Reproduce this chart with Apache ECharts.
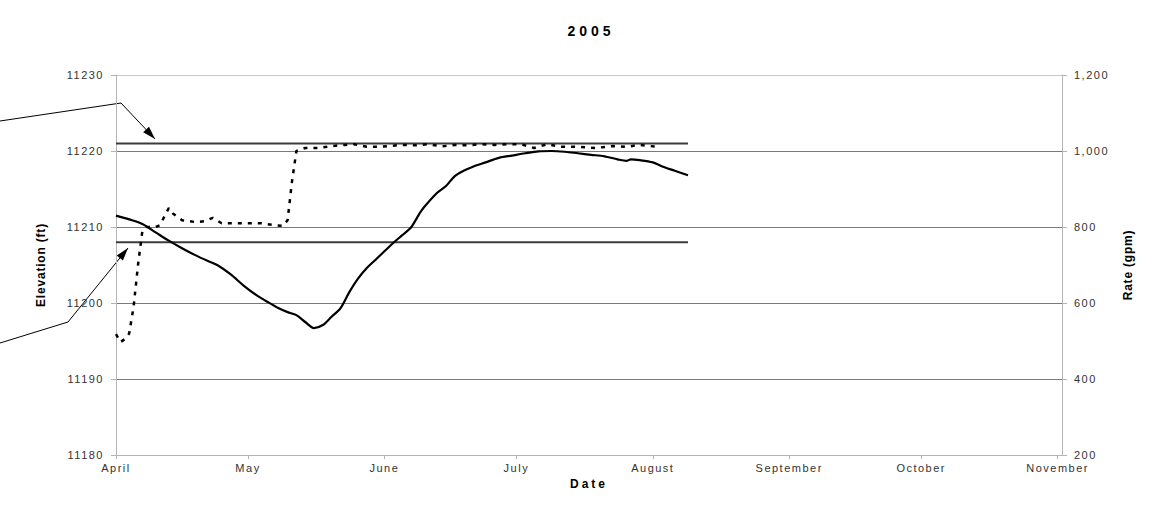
<!DOCTYPE html>
<html>
<head>
<meta charset="utf-8">
<script src="https://cdn.jsdelivr.net/npm/echarts@6/dist/echarts.min.js"></script>
<style>
html,body{margin:0;padding:0;background:#fff;}
#chart{width:1159px;height:507px;}
</style>
</head>
<body>
<div id="chart"></div>
<script>
// ---- data ----
const titleText = '2005';
const monthNames = ['January','February','March','April','May','June','July','August','September','October','November','December'];
const elevDates = ['2005-04-01','2005-04-04','2005-04-07','2005-04-10','2005-04-13','2005-04-16','2005-04-19','2005-04-22','2005-04-24','2005-04-27','2005-04-30','2005-05-03','2005-05-05','2005-05-08','2005-05-10','2005-05-12','2005-05-14','2005-05-16','2005-05-18','2005-05-20','2005-05-22','2005-05-24','2005-05-26','2005-05-28','2005-05-30','2005-06-01','2005-06-03','2005-06-05','2005-06-07','2005-06-08','2005-06-09','2005-06-10','2005-06-13','2005-06-15','2005-06-17','2005-06-19','2005-06-21','2005-06-24','2005-06-27','2005-06-30','2005-07-03','2005-07-06','2005-07-09','2005-07-12','2005-07-15','2005-07-18','2005-07-21','2005-07-24','2005-07-26','2005-07-27','2005-07-29','2005-08-01','2005-08-03','2005-08-06','2005-08-09'];
const elevValues = [11211.5,11211.0,11210.4,11209.3,11208.2,11207.2,11206.3,11205.5,11205.0,11203.8,11202.3,11201.0,11200.3,11199.3,11198.8,11198.4,11197.5,11196.7,11197.1,11198.2,11199.3,11201.4,11203.2,11204.6,11205.7,11206.8,11207.9,11208.9,11209.9,11210.8,11211.8,11212.6,11214.5,11215.4,11216.7,11217.4,11217.9,11218.5,11219.1,11219.4,11219.7,11219.95,11220.0,11219.9,11219.7,11219.5,11219.3,11218.9,11218.7,11218.9,11218.8,11218.5,11218.0,11217.4,11216.8];
const rateDates = ['2005-04-01','2005-04-02','2005-04-03','2005-04-04','2005-04-05','2005-04-06','2005-04-07','2005-04-08','2005-04-10','2005-04-11','2005-04-13','2005-04-14','2005-04-16','2005-04-19','2005-04-21','2005-04-23','2005-04-25','2005-04-28','2005-05-01','2005-05-04','2005-05-07','2005-05-09','2005-05-10','2005-05-11','2005-05-12','2005-05-14','2005-05-17','2005-05-20','2005-05-23','2005-05-25','2005-05-28','2005-05-31','2005-06-02','2005-06-05','2005-06-08','2005-06-11','2005-06-14','2005-06-17','2005-06-20','2005-06-23','2005-06-26','2005-06-29','2005-07-02','2005-07-05','2005-07-08','2005-07-11','2005-07-15','2005-07-19','2005-07-23','2005-07-26','2005-07-29','2005-08-02'];
const rateValues = [518,497,505,520,590,700,790,800,800,805,850,835,818,813,815,824,810,810,810,810,805,803,818,920,1000,1008,1008,1013,1016,1018,1011,1011,1013,1016,1015,1018,1012,1016,1015,1018,1016,1018,1018,1008,1018,1011,1011,1008,1013,1011,1016,1011];
const refLevels = [11221, 11208];
const refDates = ['2005-04-01', '2005-08-09'];
const xRange = ['2005-04-01', '2005-11-02'];
const leftRange = [11180, 11230, 10];
const rightRange = [200, 1200, 200];
const xName = 'Date';
const leftName = 'Elevation (ft)';
const rightName = 'Rate (gpm)';

// ---- layout (annotation callouts, pixel positions) ----
const callouts = [
  [[0,121],[121,103],[155,139]],
  [[0,343],[68,322],[128,248]]
];

function arrowHead(pts){
  const t = pts[pts.length-1], p = pts[pts.length-2];
  const dx = t[0]-p[0], dy = t[1]-p[1], len = Math.hypot(dx,dy);
  const ux = dx/len, uy = dy/len, L = 13, w = 4;
  const bx = t[0]-ux*L, by = t[1]-uy*L;
  return [t,[bx-uy*w, by+ux*w],[bx+uy*w, by-ux*w]];
}

const graphics = [];
callouts.forEach(pts=>{
  graphics.push({type:'polyline', shape:{points:pts}, style:{stroke:'#000', lineWidth:1, fill:null}, silent:true});
  graphics.push({type:'polygon', shape:{points:arrowHead(pts)}, style:{fill:'#000'}, silent:true});
});

const FF = 'Liberation Sans, Arial, sans-serif';
const axisFont = {fontFamily:FF, fontSize:11, color:'#333'};
const nameFont = {fontFamily:FF, fontSize:12, fontWeight:'bold', color:'#000'};
const axisLineStyle = {color:'#b4b4b4', width:1};

const chart = echarts.init(document.getElementById('chart'), null, {renderer:'svg'});
chart.setOption({
  animation:false,
  backgroundColor:'#fff',
  title:{text:titleText, left:586, top:19, textAlign:'center',
    textStyle:{fontFamily:FF, fontSize:14, fontWeight:'bold', color:'#000'}},
  grid:{left:116, right:97, top:75, bottom:52, containLabel:false},
  xAxis:{
    type:'time', min:xRange[0], max:xRange[1],
    minInterval:28*86400000, maxInterval:31*86400000,
    name:xName, nameLocation:'middle', nameGap:22,
    nameTextStyle:nameFont,
    axisLine:{show:true, lineStyle:axisLineStyle},
    axisTick:{show:true, length:4, lineStyle:axisLineStyle},
    splitLine:{show:false},
    axisLabel:Object.assign({margin:7, showMaxLabel:false, showMinLabel:true,
      formatter:v=>monthNames[new Date(v).getMonth()]}, axisFont)
  },
  yAxis:[{
    type:'value', min:leftRange[0], max:leftRange[1], interval:leftRange[2], position:'left',
    name:leftName, nameLocation:'middle', nameGap:69, nameRotate:90,
    nameTextStyle:nameFont,
    axisLine:{show:true, lineStyle:axisLineStyle},
    axisTick:{show:true, length:5, lineStyle:axisLineStyle},
    splitLine:{show:true, lineStyle:{color:['#c8c8c8','#7a7a7a','#7a7a7a','#7a7a7a','#7a7a7a','#c8c8c8'], width:1}},
    axisLabel:Object.assign({margin:12, formatter:v=>String(v)}, axisFont)
  },{
    type:'value', min:rightRange[0], max:rightRange[1], interval:rightRange[2], position:'right',
    name:rightName, nameLocation:'middle', nameGap:60, nameRotate:90,
    nameTextStyle:nameFont,
    axisLine:{show:true, lineStyle:axisLineStyle},
    axisTick:{show:true, length:5, lineStyle:axisLineStyle},
    splitLine:{show:false},
    axisLabel:Object.assign({margin:12, formatter:v=>v.toLocaleString('en-US')}, axisFont)
  }],
  series:[
    ...refLevels.map(lv=>({
      type:'line', yAxisIndex:0, symbol:'none', silent:true,
      data:refDates.map(d=>[d, lv]),
      lineStyle:{color:'#3c3c3c', width:2}
    })),
    {
      type:'line', yAxisIndex:1, symbol:'none', smooth:false,
      data:rateDates.map((d,i)=>[d, rateValues[i]]),
      lineStyle:{color:'#000', width:2.5, type:[4,6]}
    },
    {
      type:'line', yAxisIndex:0, symbol:'none', smooth:0.3,
      data:elevDates.map((d,i)=>[d, elevValues[i]]),
      lineStyle:{color:'#000', width:2.2}
    }
  ],
  graphic:graphics
});

// letter spacing, as in the reference typography
function spaceText(){
  document.querySelectorAll('#chart svg text').forEach(t=>{
    const s = t.textContent;
    let ls = '1.5px';
    if (s === titleText) ls = '4px';
    else if (s === xName) ls = '3px';
    else if (s === leftName || s === rightName) ls = '0.8px';
    t.style.letterSpacing = ls;
  });
}
spaceText();
chart.on('finished', spaceText);
</script>
</body>
</html>
